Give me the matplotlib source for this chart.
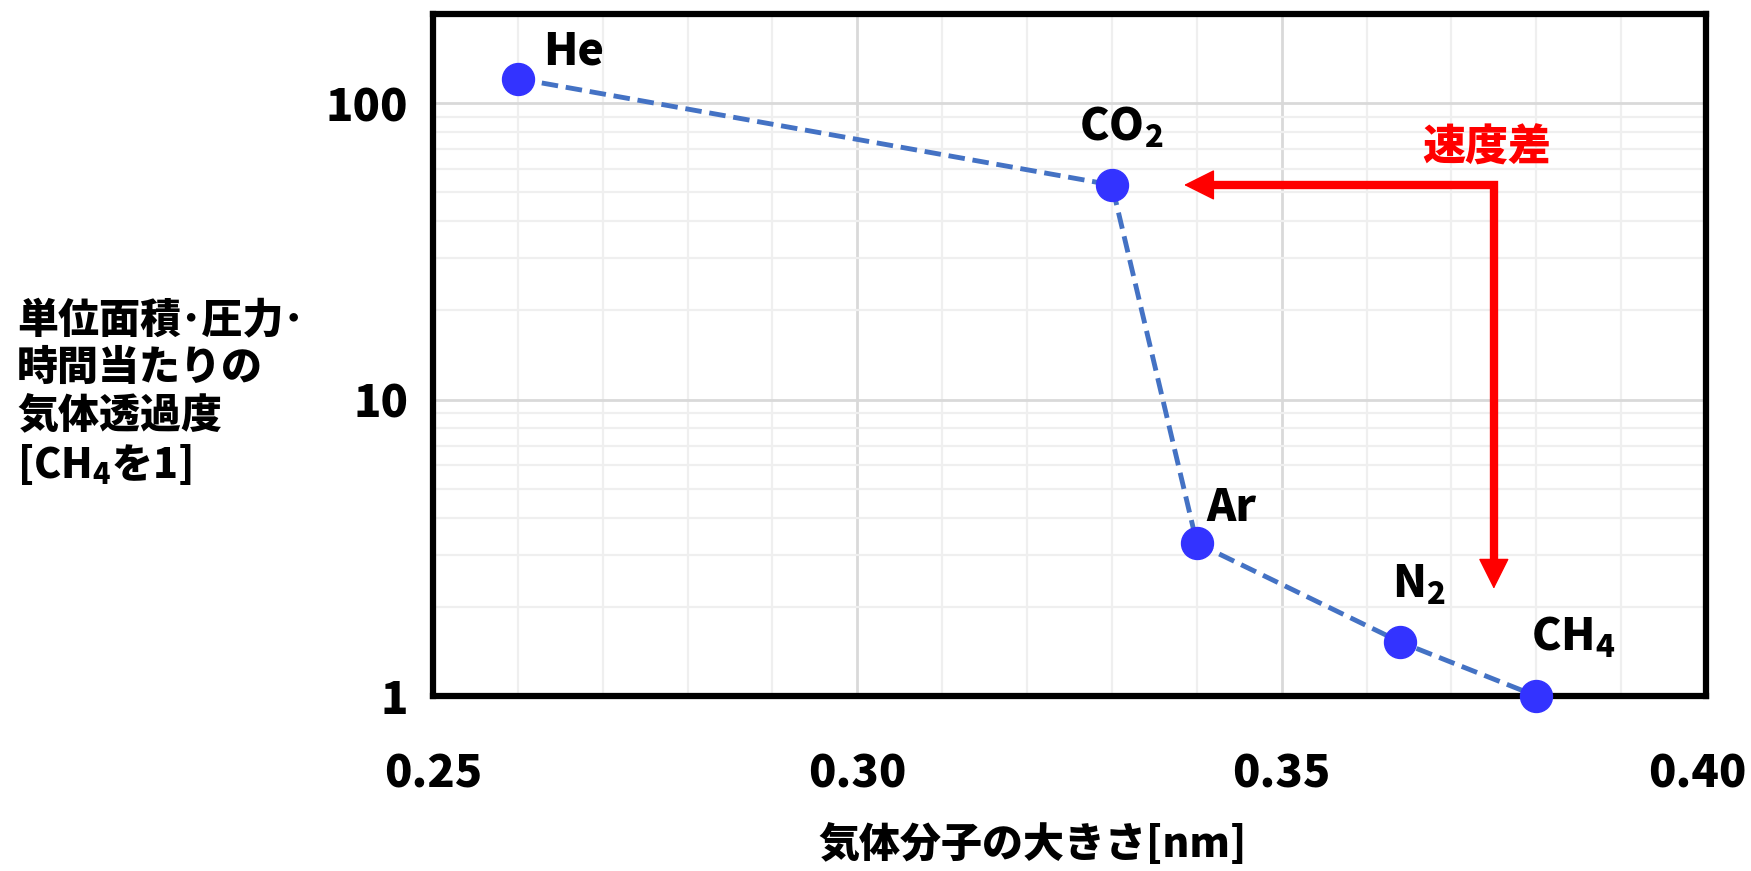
import matplotlib
matplotlib.use('Agg')
import matplotlib.pyplot as plt
import matplotlib.transforms as mtransforms
from matplotlib.ticker import FixedLocator, NullFormatter, LogLocator
import numpy as np

plt.rcParams['font.family'] = ['Noto Sans CJK JP', 'DejaVu Sans']
plt.rcParams['font.weight'] = 'heavy'
plt.rcParams['mathtext.fontset'] = 'custom'
plt.rcParams['mathtext.rm'] = 'Noto Sans CJK JP:heavy'
plt.rcParams['mathtext.it'] = 'Noto Sans CJK JP:heavy'
plt.rcParams['mathtext.bf'] = 'Noto Sans CJK JP:heavy'

# gas kinetic diameter [nm] vs relative permeance (CH4 = 1)
gases = ['He', 'CO$_2$', 'Ar', 'N$_2$', 'CH$_4$']
size_nm = [0.26, 0.33, 0.34, 0.364, 0.38]
permeance = [121, 53, 3.28, 1.52, 1.0]

# label offsets (points) relative to each marker
label_offsets = [(18, 10), (-24, 32), (7, 16), (-6, 32), (-4, 33)]

x_ticks = [0.25, 0.30, 0.35, 0.40]
x_ticklabels = ['0.25', '0.30', '0.35', '0.40']
y_ticks = [1, 10, 100]
y_ticklabels = ['1', '10', '100']

# speed-difference arrow (corner, horizontal tip, vertical tip)
arrow_corner = (0.375, 53)
arrow_left_tip = 0.3385
arrow_down_tip = 2.3

fig = plt.figure(figsize=(17.51, 8.71), dpi=100)
ax = fig.add_axes([433 / 1751, (871 - 696) / 871, (1706 - 433) / 1751, (696 - 14) / 871])

ax.set_yscale('log')
ax.set_xlim(0.25, 0.40)
ax.set_ylim(1, 200)

# grid
ax.xaxis.set_minor_locator(FixedLocator(np.arange(0.26, 0.40, 0.01)))
ax.yaxis.set_minor_locator(LogLocator(base=10, subs=np.arange(2, 10)))
ax.yaxis.set_minor_formatter(NullFormatter())
ax.grid(True, which='minor', color='#efefef', linewidth=1.6)
ax.grid(True, which='major', color='#d9d9d9', linewidth=2)
ax.set_axisbelow(True)

ax.set_xticks(x_ticks)
ax.set_xticklabels(x_ticklabels)
ax.set_yticks(y_ticks)
ax.set_yticklabels(y_ticklabels)
ax.tick_params(which='both', length=0)
ax.tick_params(axis='x', labelsize=32.5, pad=40)
ax.tick_params(axis='y', labelsize=32.5, pad=18)
for lbl in ax.get_xticklabels() + ax.get_yticklabels():
    lbl.set_fontweight('heavy')
# last x tick label sits a bit left so it stays inside the figure
last = ax.get_xticklabels()[-1]
last.set_transform(last.get_transform() +
                   mtransforms.ScaledTranslation(-9 / 100, 0, fig.dpi_scale_trans))

for sp in ax.spines.values():
    sp.set_linewidth(4.5)
    sp.set_color('black')

ax.plot(size_nm, permeance, linestyle=(0, (3.4, 1.6)), color='#4472C4', linewidth=3.5,
        marker='o', markersize=23, markerfacecolor='#3333FF', markeredgecolor='#3333FF',
        clip_on=False, zorder=3)

for name, x, y, off in zip(gases, size_nm, permeance, label_offsets):
    ax.annotate(name, (x, y), xytext=off, textcoords='offset points',
                ha='left', va='baseline', fontsize=32, fontweight='heavy', color='black')

# red arrow
cx, cy = arrow_corner
ax.plot([arrow_left_tip + 0.002, cx, cx], [cy, cy, arrow_down_tip * 1.15],
        color='#FF0000', linewidth=6, solid_joinstyle='miter', solid_capstyle='butt', zorder=4)
for tip in [(arrow_left_tip, cy), (cx, arrow_down_tip)]:
    start = (tip[0] + 0.004, cy) if tip[1] == cy else (cx, arrow_down_tip * 1.3)
    ax.annotate('', xy=tip, xytext=start,
                arrowprops=dict(arrowstyle='-|>,head_length=1.0,head_width=0.5',
                                mutation_scale=20, color='#FF0000', lw=1,
                                shrinkA=0, shrinkB=0), zorder=4)
ax.annotate('速度差', (cx, cy), xytext=(-5, 27), textcoords='offset points',
            ha='center', va='center', fontsize=31, fontweight='heavy', color='#FF0000')

# axis labels
fig.text(1033 / 1751, 1 - 845 / 871, '気体分子の大きさ[nm]', ha='center', va='center',
         fontsize=29.5, fontweight='heavy')
ylabel_lines = ['単位面積･圧力･', '時間当たりの', '気体透過度', '[CH$_4$を1]']
baselines = [333, 380, 428, 478]
for line, b in zip(ylabel_lines, baselines):
    fig.text(17 / 1751, 1 - b / 871, line, ha='left', va='baseline',
             fontsize=29.5, fontweight='heavy')

fig.savefig('out.png', dpi=100)
